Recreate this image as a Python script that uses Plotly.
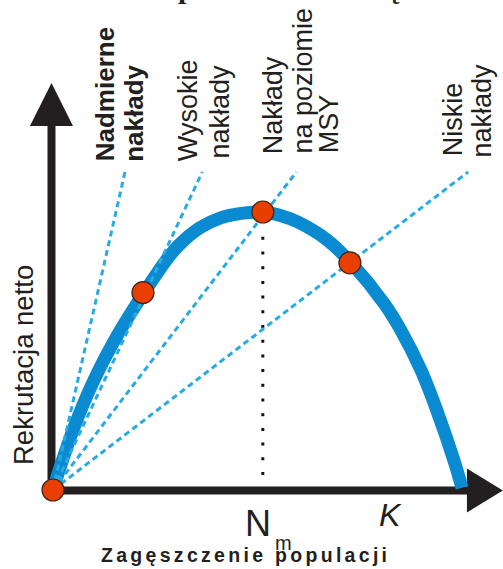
import plotly.graph_objects as go

# ---------------- data ----------------
# population density N (K = 100) and net recruitment R (maximum = 100)
density = [0, 1, 5, 10, 16, 22, 28, 31, 36, 41, 46, 51, 56, 60, 67, 73, 81, 85, 90, 94, 98, 100]
recruitment = [0, 4.8, 22, 39.5, 56.3, 70.4, 83.3, 88.4, 94.4, 97.9, 99.5, 100,
               98.6, 96.3, 90, 81.5, 67, 57.6, 43, 28, 10.8, 0.8]

# fishing-effort lines (from origin to the end of each dashed line)
effort_names = ["Nadmierne nakłady", "Wysokie nakłady", "Nakłady na poziomie MSY", "Niskie nakłady"]
effort_end_density = [17.6, 36.5, 59.5, 101.5]
effort_end_recruitment = [114.4, 114.4, 114.4, 114.4]

# equilibrium points (red dots)
point_density = [0, 22, 51.3, 72.6]
point_recruitment = [0, 71, 100, 81.7]

# N_m (MSY density) dotted guide
n_msy = 51.3
msy_guide_recruitment = [5.4, 92.4]

# ---------------- layout constants ----------------
W, H = 503, 569
X_RANGE = [-12.958, 110.024]
Y_RANGE = [-28.417, 176.259]

AXIS_COLOR = "#231f20"
CURVE_COLOR = "#0a8ad0"
DASH_COLOR = "#29abe2"
DOT_COLOR = "#e83e00"
FONT = "Liberation Sans, Arial, sans-serif"

# axes geometry (data units)
Y_AXIS_N = -0.37
X_AXIS_R = -0.18
Y_AXIS_LINE = [-1.5, 131.0]
Y_ARROW_BASE, Y_ARROW_TIP, Y_ARROW_HALF = 130.9, 146.4, 5.26
X_AXIS_LINE = [-1.3, 101.5]
X_ARROW_BASE, X_ARROW_TIP, X_ARROW_HALF = 101.2, 110.0, 7.9

fig = go.Figure()

# axes
fig.add_trace(go.Scatter(x=[Y_AXIS_N, Y_AXIS_N], y=Y_AXIS_LINE, mode="lines",
                         line=dict(color=AXIS_COLOR, width=8), hoverinfo="skip"))
fig.add_trace(go.Scatter(x=X_AXIS_LINE, y=[X_AXIS_R, X_AXIS_R], mode="lines",
                         line=dict(color=AXIS_COLOR, width=8), hoverinfo="skip"))
fig.add_trace(go.Scatter(
    x=[Y_AXIS_N - Y_ARROW_HALF, Y_AXIS_N + Y_ARROW_HALF, Y_AXIS_N, Y_AXIS_N - Y_ARROW_HALF],
    y=[Y_ARROW_BASE, Y_ARROW_BASE, Y_ARROW_TIP, Y_ARROW_BASE],
    mode="lines", fill="toself", fillcolor=AXIS_COLOR, line=dict(width=0, color=AXIS_COLOR),
    hoverinfo="skip"))
fig.add_trace(go.Scatter(
    x=[X_ARROW_BASE, X_ARROW_BASE, X_ARROW_TIP, X_ARROW_BASE],
    y=[X_AXIS_R - X_ARROW_HALF, X_AXIS_R + X_ARROW_HALF, X_AXIS_R, X_AXIS_R - X_ARROW_HALF],
    mode="lines", fill="toself", fillcolor=AXIS_COLOR, line=dict(width=0, color=AXIS_COLOR),
    hoverinfo="skip"))

# dotted N_m guide
fig.add_trace(go.Scatter(x=[n_msy, n_msy], y=msy_guide_recruitment, mode="lines",
                         line=dict(color="#111111", width=3, dash="3px,11.7px"), hoverinfo="skip"))

# recruitment curve
fig.add_trace(go.Scatter(x=density, y=recruitment, mode="lines",
                         line=dict(color=CURVE_COLOR, width=13, shape="spline", smoothing=1.0),
                         hoverinfo="skip"))

# effort lines
for name, en, er in zip(effort_names, effort_end_density, effort_end_recruitment):
    fig.add_trace(go.Scatter(x=[0, en], y=[0, er], mode="lines", name=name,
                             line=dict(color=DASH_COLOR, width=3, dash="6px,4px"),
                             hoverinfo="skip"))

# equilibrium points
fig.add_trace(go.Scatter(x=point_density, y=point_recruitment, mode="markers",
                         marker=dict(size=22, color=DOT_COLOR,
                                     line=dict(color="#3b2618", width=1.2)),
                         hoverinfo="skip"))

# ---------------- text ----------------
def label(text, n, r, size, weight="normal", angle=0, style="normal",
          xanchor="center", yanchor="middle", family=FONT, color=AXIS_COLOR,
          xref="x", yref="y", yshift=0):
    fig.add_annotation(x=n, y=r, xref=xref, yref=yref, text=text, showarrow=False,
                       textangle=angle, xanchor=xanchor, yanchor=yanchor, yshift=yshift,
                       font=dict(family=family, size=size, color=color, weight=weight, style=style))

LABEL_BOTTOM = 117.5
label("Nadmierne", 12.7, LABEL_BOTTOM, 26, weight="bold", angle=-90, yanchor="bottom")
label("nakłady", 19.8, LABEL_BOTTOM, 26, weight="bold", angle=-90, yanchor="bottom")
label("Wysokie", 33.0, LABEL_BOTTOM, 27, angle=-90, yanchor="bottom")
label("nakłady", 40.8, LABEL_BOTTOM + 1, 27, angle=-90, yanchor="bottom")
label("Nakłady", 54.0, LABEL_BOTTOM + 2.5, 27, angle=-90, yanchor="bottom")
label("na poziomie", 61.1, LABEL_BOTTOM + 2.8, 27, angle=-90, yanchor="bottom")
label("MSY", 67.5, LABEL_BOTTOM + 2.8, 27, angle=-90, yanchor="bottom")
label("Niskie", 97.8, LABEL_BOTTOM + 1.8, 27, angle=-90, yanchor="bottom")
label("nakłady", 104.9, LABEL_BOTTOM + 1.4, 27, angle=-90, yanchor="bottom")

label("Rekrutacja netto", -7.24, 45.1, 27.5, angle=-90)
label("N", 50.0, -12.2, 36)
label("m", 56.4, -19.1, 20)
label("K", 82.6, -9.0, 32, style="italic")
label('<span style="letter-spacing:3.3px">Zagęszczenie populacji</span>', 47.1, -23.4, 19.5,
      weight="bold")

# fragments of the cut-off title at the top edge
SERIF = "Liberation Serif, Times New Roman, serif"
label("p", 186 / W, 1.0, 30, weight="bold", family=SERIF, xref="paper", yref="paper",
      yanchor="bottom", yshift=-6)
label("ę", 393 / W, 1.0, 30, weight="bold", family=SERIF, xref="paper", yref="paper",
      yanchor="bottom", yshift=-6)

fig.update_layout(
    width=W, height=H, autosize=False,
    margin=dict(l=0, r=0, t=0, b=0),
    paper_bgcolor="white", plot_bgcolor="white",
    showlegend=False,
    xaxis=dict(range=X_RANGE, visible=False, fixedrange=True),
    yaxis=dict(range=Y_RANGE, visible=False, fixedrange=True),
)

fig.write_html(
    "out.html",
    config={"displayModeBar": False},
    post_script="document.body.style.margin='0px';document.body.style.padding='0px';"
                "document.documentElement.style.overflow='hidden';",
)
